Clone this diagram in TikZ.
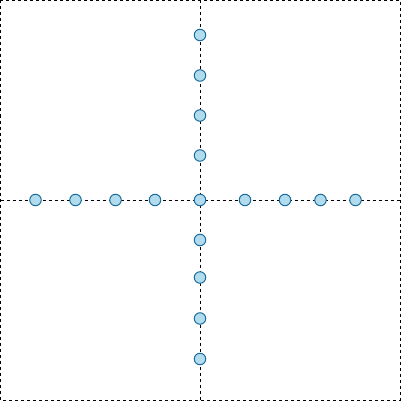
\documentclass[tikz,border=0pt]{standalone}
\definecolor{beadfill}{HTML}{B0DCEE}
\definecolor{beadline}{HTML}{1E6C9C}
\tikzset{
  bead/.style = {circle, draw = beadline, fill = beadfill, line width = 1pt,
                 minimum size = 11.5pt, inner sep = 0pt},
  guide/.style = {line width = 0.8pt, dash pattern = on 3pt off 3pt}
}

\begin{document}
\begin{tikzpicture}[x = 1pt, y = -1pt]
\useasboundingbox (0,0) rectangle (401,401);

% Outer frame
\draw[guide] (0.5,0.5) rectangle (400,400);

% Ends of the two axes
\coordinate (top) at (200,0.5);
\coordinate (bottom) at (200,400);
\coordinate (left) at (0.5,200);
\coordinate (right) at (400,200);

% Axes
\draw[guide] (top) -- (bottom);
\draw[guide] (left) -- (right);

% Centre bead
\node[bead] (c) at (200,200) {};

% Beads on the horizontal axis
\foreach \x [count = \i] in {35.5, 75.5, 115.5, 155, 245, 285, 320.5, 355.5}
  \node[bead] (h\i) at (\x,200) {};

% Beads on the vertical axis
\foreach \y [count = \i] in {35, 75.5, 115.5, 155.5, 240, 277.5, 318.5, 359}
  \node[bead] (v\i) at (200,\y) {};

\end{tikzpicture}
\end{document}
